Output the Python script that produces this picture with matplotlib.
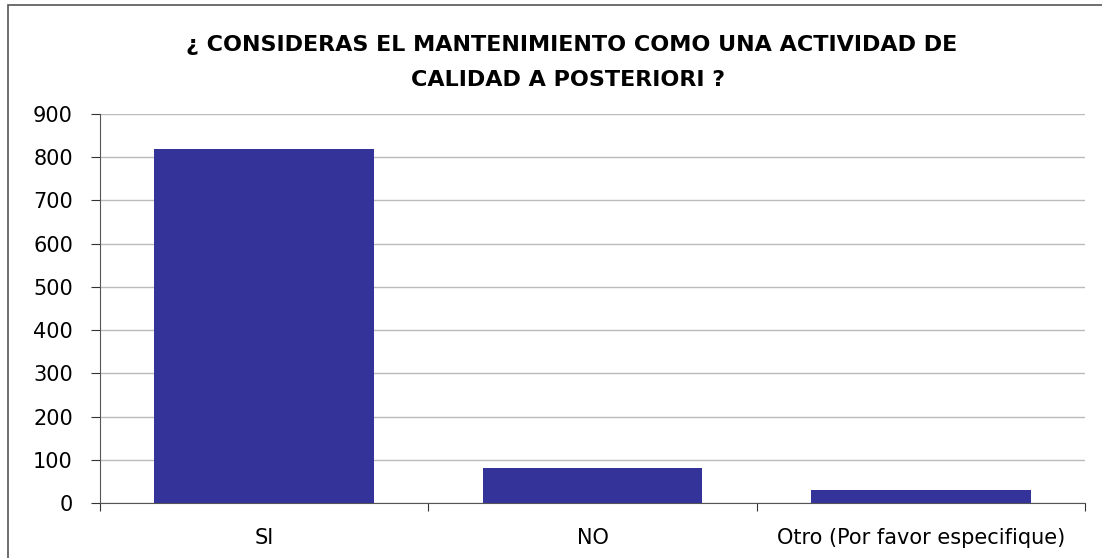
import matplotlib.pyplot as plt
import matplotlib.patches as mpatches
import numpy as np

categories = ['SI', 'NO', 'Otro (Por favor especifique)']
values = [819, 82, 30]
yticks = [0, 100, 200, 300, 400, 500, 600, 700, 800, 900]

plt.rcParams['font.family'] = ['DejaVu Sans']

fig = plt.figure(figsize=(11.02, 5.58), dpi=100)
ax = fig.add_axes([100/1102, 55/558, 985/1102, 389/558])

x = np.arange(len(categories))
ax.bar(x, values, width=0.67, color='#333399', zorder=3)

ax.set_xlim(-0.5, len(categories) - 0.5)
ax.set_ylim(0, 900)
ax.set_yticks(yticks)
ax.yaxis.grid(True, color='#bbbbbb', linewidth=1, zorder=0)

# x ticks at category boundaries, labels centred
ax.set_xticks(np.arange(-0.5, len(categories)), minor=False)
ax.set_xticklabels([])
ax.set_xticks(x, minor=True)
ax.set_xticklabels(categories, minor=True, fontsize=15)
ax.tick_params(axis='x', which='minor', length=0, pad=18)
ax.tick_params(axis='x', which='major', direction='out', length=6, color='#333333')
ax.tick_params(axis='y', direction='out', length=6.5, pad=13, labelsize=15, color='#333333')

for s in ['top', 'right']:
    ax.spines[s].set_visible(False)
for s in ['left', 'bottom']:
    ax.spines[s].set_color('#555555')

fig.text(572/1102, 1 - 45/558, '¿ CONSIDERAS EL MANTENIMIENTO COMO UNA ACTIVIDAD DE',
         ha='center', va='center', fontsize=16, fontweight='bold')
fig.text(568/1102, 1 - 80/558, 'CALIDAD A POSTERIORI ?',
         ha='center', va='center', fontsize=16, fontweight='bold')

# outer chart frame (right and bottom edges fall outside the image)
fig.patches.append(mpatches.Rectangle((8/1102, -0.1), 2, 1.1 - 5/558, transform=fig.transFigure,
                                      fill=False, edgecolor='#555555', linewidth=1.2))

plt.savefig('out.png', dpi=100)
